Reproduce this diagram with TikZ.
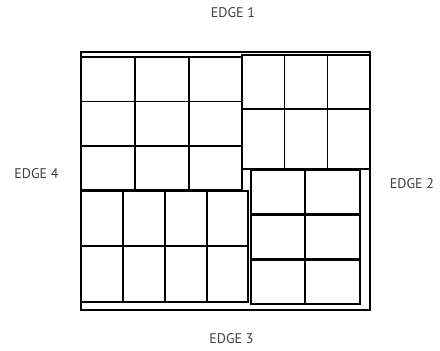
\documentclass[tikz,border=0pt]{standalone}
\usepackage{fontspec}
\setmainfont{PT Sans}
\begin{document}
\begin{tikzpicture}[x=1pt,y=-1pt,
  thin grid/.style={draw=black,line width=1.8pt,line cap=rect},
  heavy grid/.style={draw=black,line width=2.6pt,line cap=rect},
  frame/.style={draw=black,line width=2pt},
  edgelabel/.style={font=\fontsize{14}{16}\selectfont,text=black!75,inner sep=0pt}]
\useasboundingbox (0,0) rectangle (440,351);
\fill[white] (0,0) rectangle (440,351);
% outer frame
\draw[frame] (80.5,52) rectangle (369.5,310);
% grid A (top left, 3x3)
\foreach \x in {81,135,189,242} \draw[thin grid] (\x,57) -- (\x,190);
\foreach \y in {57,101.5,146,190} \draw[thin grid] (81,\y) -- (242,\y);
% grid B (top right, 3x2)
\foreach \x in {242,284.5,327.5,369.5} \draw[thin grid] (\x,55) -- (\x,169);
\foreach \y in {55,109,169} \draw[thin grid] (242,\y) -- (369.5,\y);
% grid C (bottom left, 4x2)
\foreach \x in {81,123,165,207,248} \draw[heavy grid] (\x,191) -- (\x,302);
\foreach \y in {191,246,302} \draw[heavy grid] (81,\y) -- (248,\y);
% grid D (bottom right, 2x3)
\foreach \x in {251,305,360} \draw[heavy grid] (\x,170) -- (\x,304);
\foreach \y in {170,214.5,259.5,304} \draw[heavy grid] (251,\y) -- (360,\y);
% labels
\node[edgelabel] (e1) at (233,12.5) {EDGE 1};
\node[edgelabel] (e2) at (412,184) {EDGE 2};
\node[edgelabel] (e3) at (231.5,339) {EDGE 3};
\node[edgelabel] (e4) at (36.5,174) {EDGE 4};
\end{tikzpicture}
\end{document}
